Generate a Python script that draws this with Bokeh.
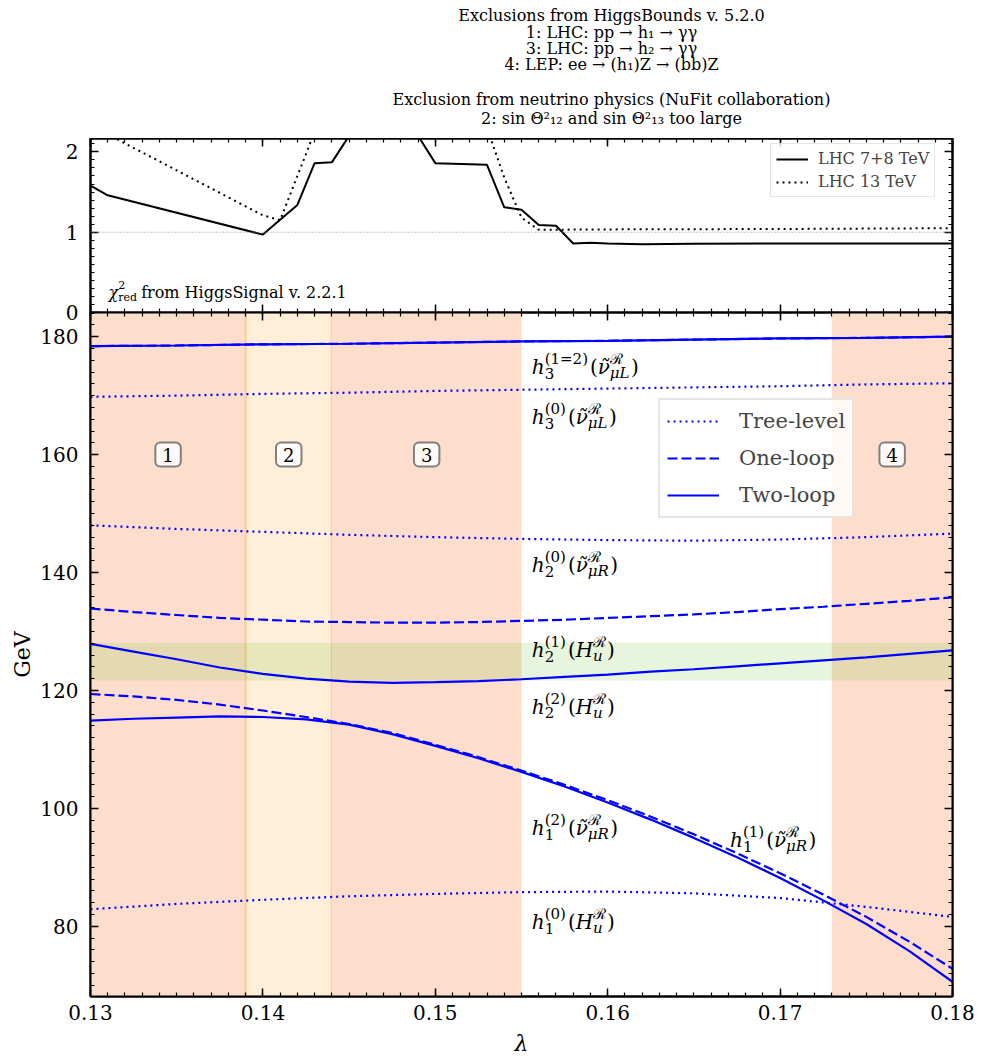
import unicodedata
from bokeh.plotting import figure
from bokeh.models import (Range1d, LinearAxis, SingleIntervalTicker, BoxAnnotation, Span,
                          Legend, LegendItem, ColumnDataSource, CustomJSTickFormatter)
from bokeh.layouts import column
from bokeh.core.properties import value
from bokeh.embed import file_html
from bokeh.resources import INLINE

SERIF = "DejaVu Serif"

# ---------------------------------------------------------------- data
header_text = [
    "Exclusions from HiggsBounds v. 5.2.0",
    "1: LHC: pp \u2192 h\u2081 \u2192 \u03b3\u03b3",
    "3: LHC: pp \u2192 h\u2082 \u2192 \u03b3\u03b3",
    "4: LEP: ee \u2192 (h\u2081)Z \u2192 (bb)Z",
    "Exclusion from neutrino physics (NuFit collaboration)",
    "2: sin \u0398\u00b2\u2081\u2082 and sin \u0398\u00b2\u2081\u2083 too large",
]

# upper panel: reduced chi^2 from HiggsSignals
lhc78_lam = [0.130, 0.131, 0.140, 0.142, 0.143, 0.144, 0.145, 0.146, 0.147, 0.148, 0.149,
             0.150, 0.153, 0.154, 0.155, 0.156, 0.157, 0.158, 0.159, 0.160, 0.162, 0.165,
             0.170, 0.175, 0.180]
lhc78_chi2 = [1.58, 1.46, 0.97, 1.34, 1.86, 1.87, 2.20, 2.45, 2.55, 2.45, 2.20,
              1.86, 1.84, 1.31, 1.28, 1.09, 1.08, 0.86, 0.87, 0.86, 0.85, 0.855,
              0.86, 0.86, 0.86]
lhc13_lam = [0.130, 0.140, 0.141, 0.142, 0.143, 0.144, 0.150, 0.152, 0.153, 0.154, 0.155,
             0.156, 0.160, 0.170, 0.180]
lhc13_chi2 = [2.33, 1.21, 1.15, 1.70, 2.25, 2.60, 2.60, 2.60, 2.30, 1.68, 1.18,
              1.03, 1.035, 1.04, 1.05]
chi2_reference = 1.0

# lower panel: Higgs masses in GeV
lam_c = [0.130, 0.135, 0.140, 0.145, 0.150, 0.155, 0.160, 0.165, 0.170, 0.175, 0.180]
lam_f = [0.1300, 0.1325, 0.1350, 0.1375, 0.1400, 0.1425, 0.1450, 0.1475, 0.1500, 0.1525, 0.1550,
         0.1575, 0.1600, 0.1625, 0.1650, 0.1675, 0.1700, 0.1725, 0.1750, 0.1775, 0.1800]

tree_h3 = [169.8, 170.0, 170.3, 170.5, 170.8, 171.0, 171.2, 171.4, 171.6, 171.9, 172.1]
tree_h2 = [148.0, 147.4, 146.9, 146.4, 146.0, 145.7, 145.5, 145.4, 145.6, 146.0, 146.6]
tree_h1 = [82.9, 83.8, 84.5, 85.1, 85.5, 85.8, 85.9, 85.6, 84.8, 83.3, 81.6]
loop_h3 = [178.4, 178.5, 178.7, 178.8, 179.0, 179.2, 179.3, 179.5, 179.7, 179.8, 180.0]
one_h2 = [133.9, 133.3, 132.8, 132.3, 132.0, 131.7, 131.6, 131.5, 131.5, 131.6, 131.8,
          132.0, 132.3, 132.6, 132.9, 133.3, 133.8, 134.2, 134.7, 135.2, 135.8]
one_h1 = [119.4, 119.0, 118.4, 117.6, 116.6, 115.5, 114.3, 112.8, 110.8, 108.7, 106.4,
          104.0, 101.4, 98.6, 95.6, 92.4, 89.0, 85.4, 81.6, 77.4, 72.8]
two_h2 = [127.9, 126.6, 125.3, 123.9, 122.8, 122.0, 121.5, 121.3, 121.4, 121.6, 121.9,
          122.3, 122.7, 123.2, 123.6, 124.1, 124.6, 125.1, 125.6, 126.2, 126.8]
two_h1 = [114.9, 115.2, 115.4, 115.6, 115.5, 115.1, 114.2, 112.6, 110.6, 108.5, 106.2,
          103.7, 101.0, 98.1, 95.0, 91.7, 88.2, 84.4, 80.4, 75.8, 70.6]

# excluded regions
region_left = [0.130, 0.139, 0.144, 0.173]
region_right = [0.139, 0.144, 0.155, 0.180]
region_num = ["1", "2", "3", "4"]
region_source = ["HiggsBounds", "NuFit", "HiggsBounds", "HiggsBounds"]
region_label_gev = 160
higgs_band = [121.7, 128.1]

# curve labels
curve_label_idx = ["3", "3", "2", "2", "2", "1", "1", "1"]
curve_label_order = ["(1=2)", "(0)", "(0)", "(1)", "(2)", "(2)", "(1)", "(0)"]
curve_label_field = ["\u03bd\u0303", "\u03bd\u0303", "\u03bd\u0303", "H", "H",
                     "\u03bd\u0303", "\u03bd\u0303", "H"]
curve_label_fsub = ["\u03bcL", "\u03bcL", "\u03bcR", "u", "u", "\u03bcR", "\u03bcR", "u"]
curve_label_x = [0.1556, 0.1556, 0.1556, 0.1556, 0.1556, 0.1556, 0.1671, 0.1556]
curve_label_y = [174.8, 166.3, 141.2, 126.8, 117.2, 96.6, 94.6, 80.7]

# ---------------------------------------------------------------- helpers
EM = {"h": .64, "H": .87, "L": .64, "R": .73, "u": .64, "r": .48, "e": .59, "d": .64,
      "\u03bd": .60, "\u03bc": .64, "\u03c7": .62, "\u211b": .80,
      "(": .39, ")": .39, "=": .84, " ": .32, ".": .32}
for _d in "0123456789":
    EM[_d] = .636


def text_width(s, size):
    return size * sum(0 if unicodedata.combining(c) else EM.get(c, .6) for c in s)


def rich_records(x, y, slots, base, small, sup_dy, sub_dy):
    recs = []
    dx = 0.0
    for s in slots:
        if s[0] == "n":
            _, txt, style = s
            recs.append((x, y, txt, dx, 0, base, style))
            dx += text_width(txt, base)
        elif s[0] == "gap":
            dx += s[1]
        else:
            _, sub, sub_style, sup, sup_style = s
            w = 0
            if sub:
                recs.append((x, y, sub, dx, sub_dy, small, sub_style))
                w = max(w, text_width(sub, small))
            if sup:
                recs.append((x, y, sup, dx, sup_dy, small, sup_style))
                w = max(w, text_width(sup, small))
            dx += w + 1
    return recs


def draw_records(p, recs):
    groups = {}
    for (x, y, t, xo, yo, size, style) in recs:
        g = groups.setdefault((size, style), dict(x=[], y=[], text=[], xo=[], yo=[]))
        g["x"].append(x); g["y"].append(y); g["text"].append(t)
        g["xo"].append(xo); g["yo"].append(yo)
    for (size, style), g in groups.items():
        p.text(x="x", y="y", text="text", x_offset="xo", y_offset="yo",
               source=ColumnDataSource(g), text_font=value(SERIF),
               text_font_size=f"{size}px", text_font_style=style,
               text_align="left", text_baseline="alphabetic", text_color="black")


def add_axes(p, xint, yint, xlabels, ylabels, xlabel=None, ylabel=None):
    xt = SingleIntervalTicker(interval=xint, num_minor_ticks=10)
    yt = SingleIntervalTicker(interval=yint, num_minor_ticks=10)
    for side, ticker, show in (("below", xt, xlabels), ("above", xt, False),
                               ("left", yt, ylabels), ("right", yt, False)):
        ax = LinearAxis(ticker=ticker)
        ax.axis_line_color = "black"
        ax.axis_line_width = 2
        ax.major_tick_in = 8
        ax.major_tick_out = 0
        ax.minor_tick_in = 4
        ax.minor_tick_out = 0
        ax.major_tick_line_width = 1.5
        ax.minor_tick_line_width = 1.2
        ax.major_tick_line_color = "black"
        ax.minor_tick_line_color = "black"
        if show:
            ax.major_label_text_font = SERIF
            ax.major_label_text_font_size = "20px"
            ax.major_label_text_color = "black"
            ax.major_label_standoff = 12 if side == "left" else 8
            lab = xlabel if side == "below" else ylabel
            if lab:
                ax.axis_label = lab
                ax.axis_label_text_font = SERIF
                ax.axis_label_text_font_size = "22px"
                ax.axis_label_text_color = "black"
                ax.axis_label_text_font_style = "italic" if side == "below" else "normal"
                ax.axis_label_standoff = 8 if side == "below" else 2
        else:
            ax.formatter = CustomJSTickFormatter(code="return '';")
            ax.major_label_text_font_size = "1px"
            ax.major_label_standoff = 0
        p.add_layout(ax, side)


def base_fig(fh, yr, top, bottom):
    p = figure(frame_width=862, frame_height=fh, x_range=Range1d(0.13, 0.18), y_range=yr,
               x_axis_type=None, y_axis_type=None, toolbar_location=None,
               output_backend="svg", min_border_left=90, min_border_right=39,
               min_border_top=top, min_border_bottom=bottom)
    p.outline_line_color = "black"
    p.outline_line_width = 2
    p.background_fill_color = "white"
    p.border_fill_color = "white"
    return p


# ---------------------------------------------------------------- header
hdr = figure(frame_width=991, frame_height=138, x_range=Range1d(0, 991), y_range=Range1d(138, 0),
             x_axis_type=None, y_axis_type=None, toolbar_location=None, output_backend="svg",
             min_border=0)
hdr.outline_line_color = None
header_row = [15, 31.5, 48, 64, 98.5, 118]
hdr.text(x=[521] * len(header_text), y=header_row, text=header_text, text_font=value(SERIF),
         text_font_size="16px", text_align="center", text_baseline="middle", text_color="black")

# ---------------------------------------------------------------- upper panel
OVERLAP = 14
p_top = base_fig(174, Range1d(0, 2.167), 0, OVERLAP)
add_axes(p_top, 0.01, 1, False, True)
p_top.add_layout(Span(location=chi2_reference, dimension="width", line_color="#888888",
                      line_width=1, line_dash="1 2"))
r78 = p_top.line(lhc78_lam, lhc78_chi2, line_color="black", line_width=2)
r13 = p_top.line(lhc13_lam, lhc13_chi2, line_color="black", line_width=2, line_dash="2 4")
leg_top = Legend(items=[LegendItem(label="LHC 7+8 TeV", renderers=[r78]),
                        LegendItem(label="LHC 13 TeV", renderers=[r13])],
                 location=(680, 115), label_text_font=SERIF, label_text_font_size="16px",
                 glyph_width=32, glyph_height=16, label_height=18, label_standoff=10,
                 spacing=4, padding=5, margin=0, border_line_color="#cccccc",
                 border_line_width=1.5, background_fill_alpha=0.8)
p_top.add_layout(leg_top)

chi_recs = rich_records(0.13104, 0.25,
                        [("n", "\u03c7", "italic"), ("ss", "red", "normal", "2", "normal"),
                         ("gap", 3), ("n", "from HiggsSignal v. 2.2.1", "normal")],
                        16, 11, -7, 5)
draw_records(p_top, chi_recs)

# ---------------------------------------------------------------- lower panel
p_bot = base_fig(684, Range1d(68.1, 184.1), 0, 67)
p_bot.border_fill_color = None
p_bot.margin = (-OVERLAP, 0, 0, 0)
add_axes(p_bot, 0.01, 20, True, True, xlabel="\u03bb", ylabel="GeV")

region_fill = {"HiggsBounds": "#fddecd", "NuFit": "#ffefd9"}
for l, r, src in zip(region_left, region_right, region_source):
    box = BoxAnnotation(left=l, right=r, fill_color=region_fill[src], fill_alpha=1.0,
                        line_color="#f8cca2" if src == "NuFit" else None,
                        line_width=2.5, line_alpha=0.9 if src == "NuFit" else 0,
                        level="underlay")
    p_bot.add_layout(box)
p_bot.add_layout(BoxAnnotation(bottom=higgs_band[0], top=higgs_band[1], fill_color="#58bc16",
                               fill_alpha=0.15, line_color=None, line_alpha=0, level="underlay"))

BLUE = "#0000ff"
LW = 2.2
r_tree = p_bot.line(lam_c, tree_h3, line_color=BLUE, line_width=LW, line_dash="2 4")
p_bot.line(lam_c, tree_h2, line_color=BLUE, line_width=LW, line_dash="2 4")
p_bot.line(lam_c, tree_h1, line_color=BLUE, line_width=LW, line_dash="2 4")
p_bot.line(lam_c, loop_h3, line_color=BLUE, line_width=LW, line_dash="10 4")
r_one = p_bot.line(lam_f, one_h2, line_color=BLUE, line_width=LW, line_dash="10 4")
p_bot.line(lam_f, one_h1, line_color=BLUE, line_width=LW, line_dash="10 4")
p_bot.line(lam_c, loop_h3, line_color=BLUE, line_width=LW)
r_two = p_bot.line(lam_f, two_h2, line_color=BLUE, line_width=LW)
p_bot.line(lam_f, two_h1, line_color=BLUE, line_width=LW)

# region numbers
p_bot.text(x=[(l + r) / 2 for l, r in zip(region_left, region_right)],
           y=[region_label_gev] * len(region_num), text=region_num,
           text_font=value(SERIF), text_font_size="18px", text_align="center",
           text_baseline="middle", text_color="black",
           background_fill_color="white", background_fill_alpha=0.85,
           border_line_color="#808080", border_line_width=2, border_radius=5,
           padding=dict(left=7, right=7, top=5, bottom=5))

# curve labels
recs = []
for x, y, i, o, f, fs in zip(curve_label_x, curve_label_y, curve_label_idx, curve_label_order,
                             curve_label_field, curve_label_fsub):
    slots = [("n", "h", "italic"), ("ss", i, "normal", o, "normal"), ("gap", 1),
             ("n", "(", "normal"), ("n", f, "italic"),
             ("ss", fs, "italic", "\u211b", "normal"), ("gap", 1), ("n", ")", "normal")]
    recs += rich_records(x, y, slots, 20, 15, -8, 6)
draw_records(p_bot, recs)

leg_bot = Legend(items=[LegendItem(label="Tree-level", renderers=[r_tree]),
                        LegendItem(label="One-loop", renderers=[r_one]),
                        LegendItem(label="Two-loop", renderers=[r_two])],
                 location=(568, 478), label_text_font=SERIF, label_text_font_size="21px",
                 glyph_width=52, glyph_height=20, label_height=28, label_standoff=20,
                 spacing=9, padding=7, margin=0, border_line_color="#cccccc",
                 border_line_width=2, background_fill_alpha=0.8)
p_bot.add_layout(leg_bot)

layout = column(hdr, p_top, p_bot)
open("out.html", "w").write(file_html(layout, INLINE))
